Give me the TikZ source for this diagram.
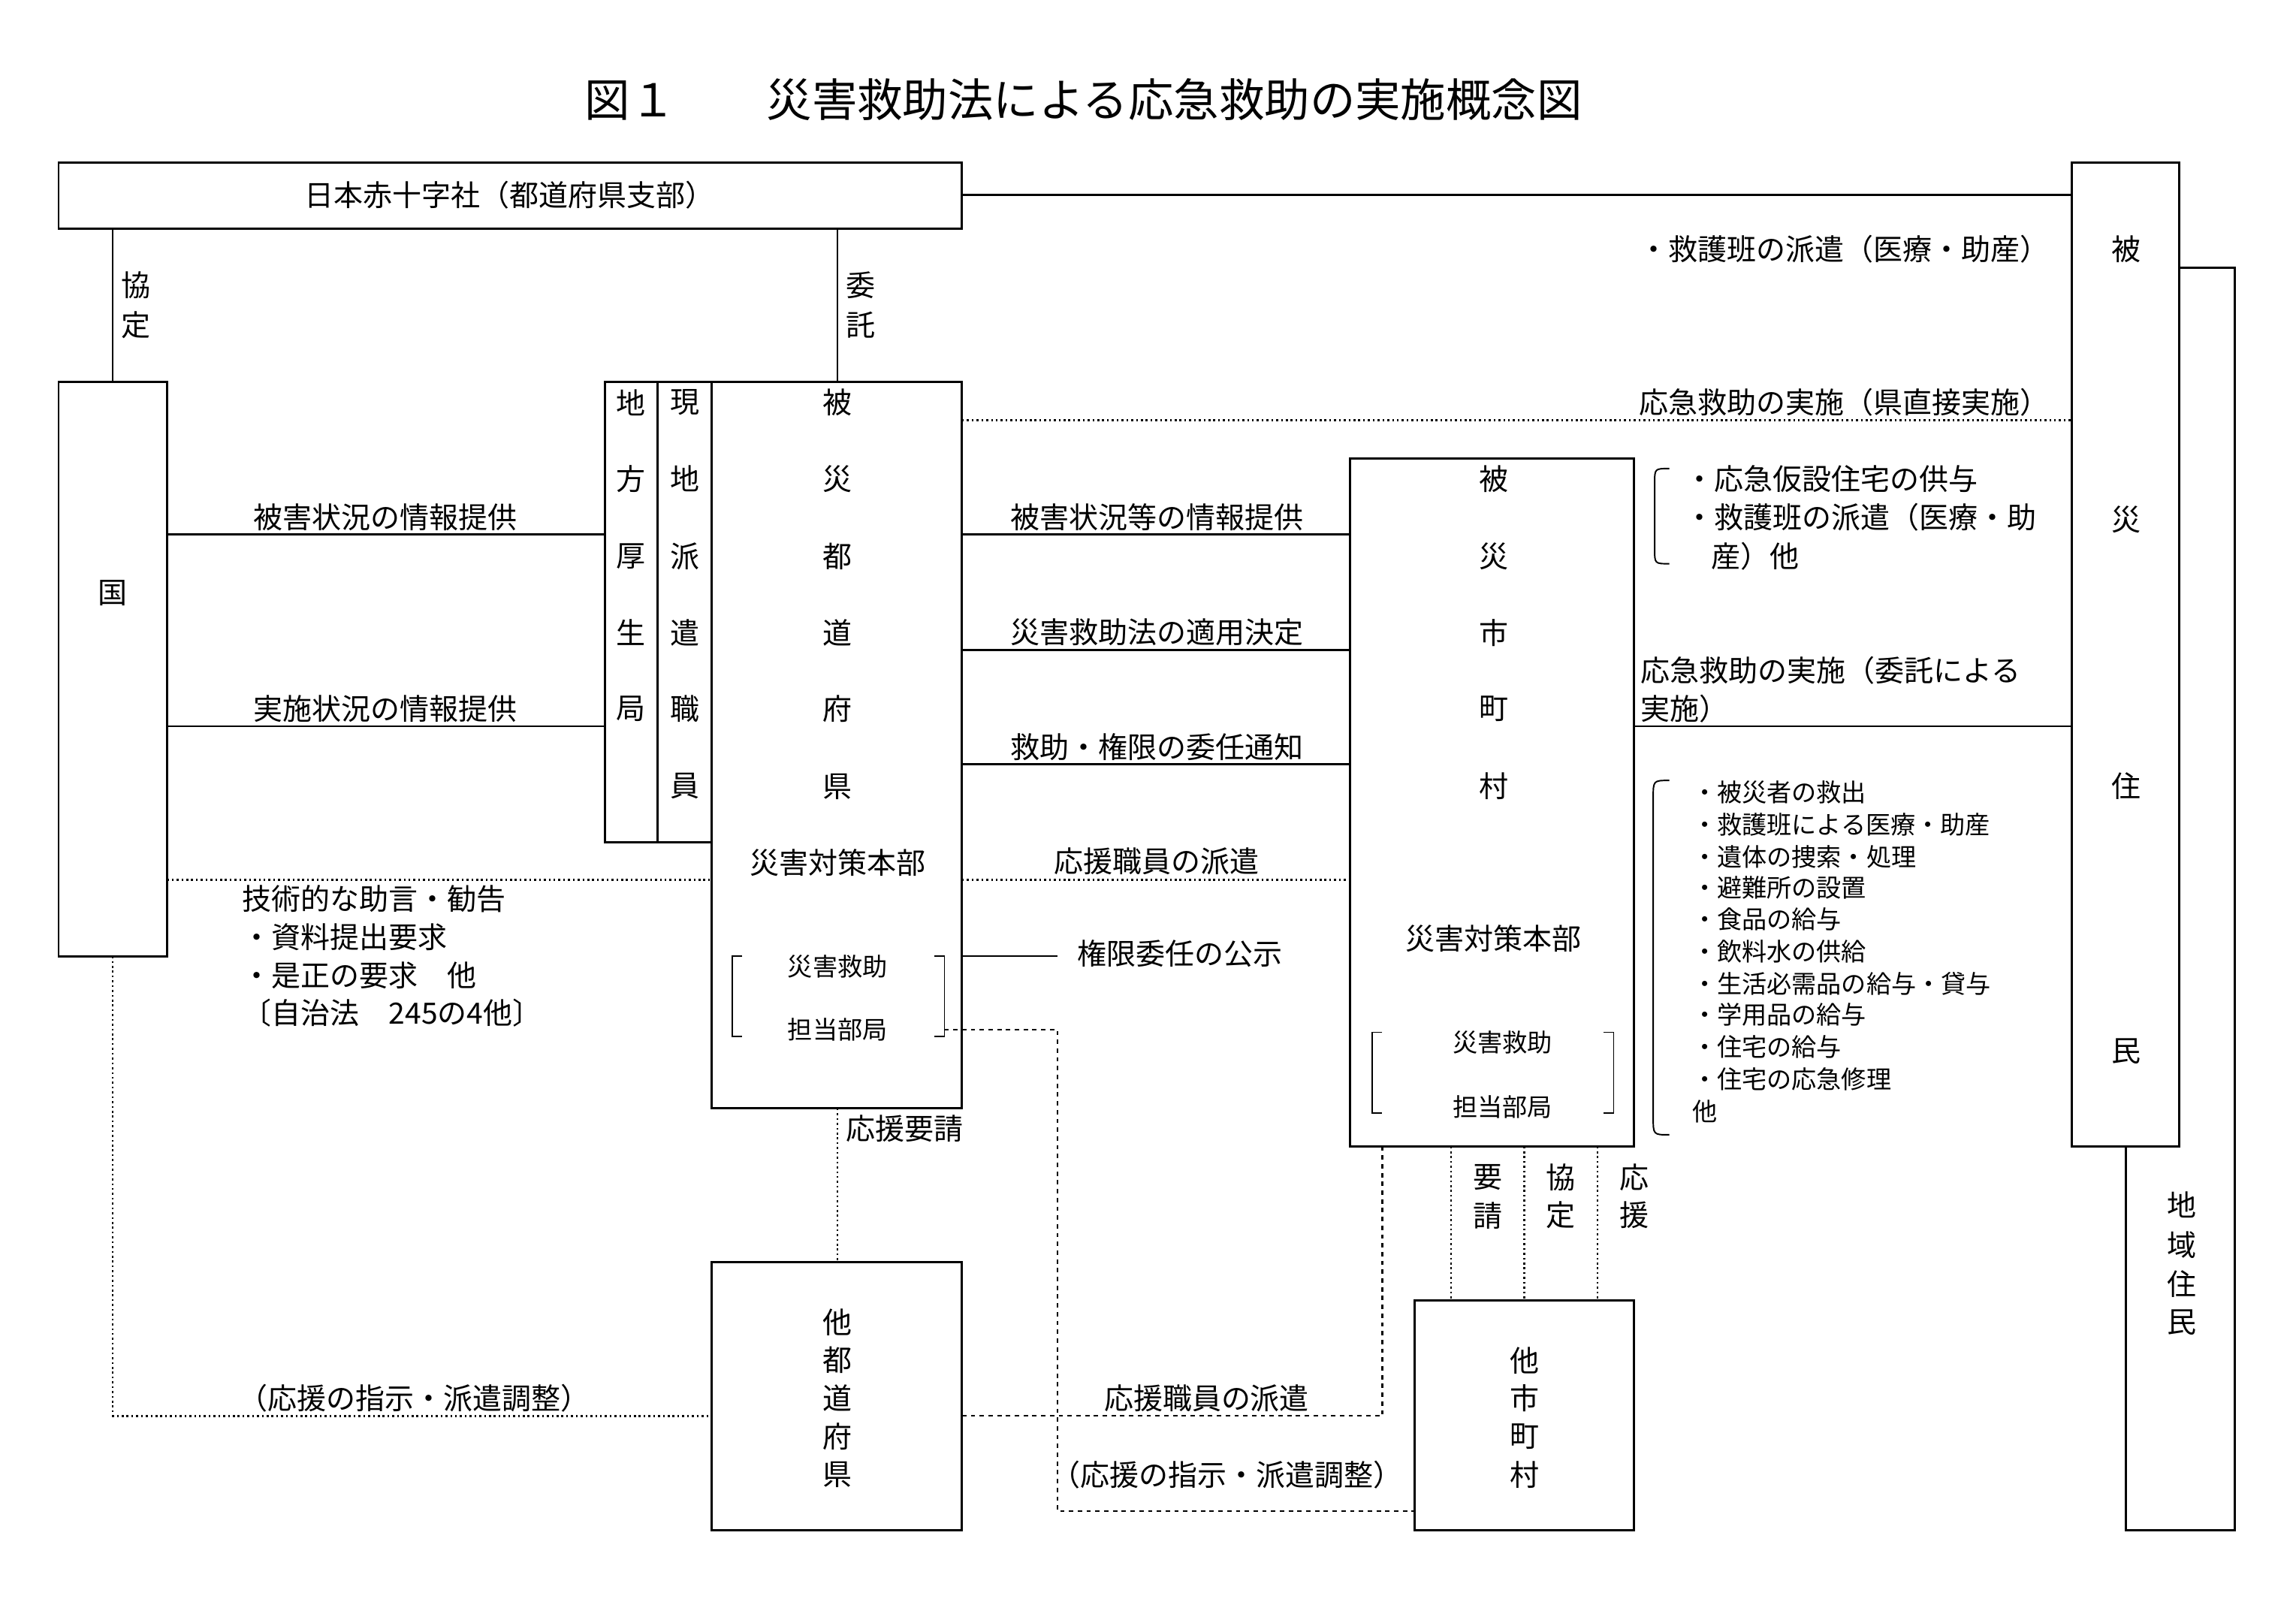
\documentclass[tikz,border=0pt]{standalone}
\usepackage{fontspec}
\setmainfont{Noto Sans CJK JP}
\begin{document}
\begin{tikzpicture}[x=1pt,y=-1pt,line width=1.3pt,
 t/.style={inner sep=0pt,font=\fontsize{20}{24}\selectfont},
 s/.style={inner sep=0pt,font=\fontsize{17}{20}\selectfont,anchor=west},
 box/.style={draw,line width=1.5pt},
 dot/.style={dotted,line width=1.3pt},
 dsh/.style={dashed,line width=1.1pt}]
\useasboundingbox (0,0) rectangle (1568,1108);
\node[t,font=\fontsize{31}{36}\selectfont] (title) at (740,68) {図１　　災害救助法による応急救助の実施概念図};
% boxes
\draw[box] (40,111) rectangle (657,156);
\node[t] (rc) at (348,133) {日本赤十字社（都道府県支部）};
\draw[box] (1415,111) rectangle (1488,783);
\foreach \c/\y in {被/170,災/355,住/537,民/718} \node[t] at (1452,\y) {\c};
\draw[box] (1488,183) -- (1526,183) -- (1526,1045) -- (1452,1045) -- (1452,783);
\foreach \c/\y in {地/823,域/850,住/877,民/903} \node[t] at (1490,\y) {\c};
\draw (657,133) -- (1415,133);
\draw (77,156) -- (77,261); \node[t] at (93,195) {協}; \node[t] at (93,222) {定};
\draw (572,156) -- (572,261); \node[t] at (588,195) {委}; \node[t] at (588,222) {託};
\draw[box] (40,261) rectangle (114,653); \node[t] (kuni) at (77,405) {国};
\draw[box] (413,261) rectangle (449,575);
\foreach \c/\y in {地/275,方/327,厚/380,生/432,局/484} \node[t] at (431,\y) {\c};
\draw[box] (449,261) rectangle (486,575);
\foreach \c/\y in {現/275,地/327,派/380,遣/432,職/484,員/537} \node[t] at (468,\y) {\c};
\draw[box] (486,261) rectangle (657,757);
\foreach \c/\y in {被/275,災/327,都/380,道/432,府/484,県/537} \node[t] at (572,\y) {\c};
\node[t] at (572,589) {災害対策本部};
\node[s,anchor=center] at (572,660) {災害救助};
\node[s,anchor=center] at (572,703) {担当部局};
\draw[line width=1pt] (507,653) -- (500,653) -- (500,708) -- (507,708);
\draw[line width=1pt] (638,653) -- (645,653) -- (645,708) -- (638,708);
\draw[box] (922,313) rectangle (1116,783);
\foreach \c/\y in {被/327,災/380,市/432,町/484,村/537} \node[t] at (1020,\y) {\c};
\node[t] at (1020,641) {災害対策本部};
\node[s,anchor=center] at (1026,712) {災害救助};
\node[s,anchor=center] at (1026,756) {担当部局};
\draw[line width=1pt] (944,705) -- (937,705) -- (937,760) -- (944,760);
\draw[line width=1pt] (1095,705) -- (1102,705) -- (1102,760) -- (1095,760);
% left lines
\draw (114,365) -- (413,365); \node[t] at (263,353) {被害状況の情報提供};
\draw (114,496) -- (413,496); \node[t] at (263,484) {実施状況の情報提供};
\draw[dot] (114,601) -- (486,601);
\foreach \s/\y in {技術的な助言・勧告/614,・資料提出要求/640,・是正の要求　他/666,〔自治法　245の4他〕/692} \node[t,anchor=west] at (165,\y) {\s};
% middle lines
\draw (657,365) -- (922,365); \node[t] at (790,353) {被害状況等の情報提供};
\draw (657,444) -- (922,444); \node[t] at (790,432) {災害救助法の適用決定};
\draw (657,522) -- (922,522); \node[t] at (790,510) {救助・権限の委任通知};
\draw[dot] (657,601) -- (922,601); \node[t] at (790,588) {応援職員の派遣};
\draw (657,653) -- (722,653); \node[t,anchor=west] at (735,651) {権限委任の公示};
\draw[dot] (657,287) -- (1415,287); \node[t,anchor=east] at (1400,275) {応急救助の実施（県直接実施）};
\node[t,anchor=east] at (1400,170) {・救護班の派遣（医療・助産）};
% right side
\draw[line width=1pt] (1140,320) .. controls (1130,320) .. (1130,330) -- (1130,375) .. controls (1130,385) .. (1140,385);
\node[t,anchor=west] at (1150,327) {・応急仮設住宅の供与};
\node[t,anchor=west] at (1150,353) {・救護班の派遣（医療・助};
\node[t,anchor=west] at (1168,380) {産）他};
\draw (1116,496) -- (1415,496);
\node[t,anchor=west] at (1120,458) {応急救助の実施（委託による};
\node[t,anchor=west] at (1120,484) {実施）};
\draw[line width=1pt] (1140,533) .. controls (1129,533) .. (1129,545) -- (1129,763) .. controls (1129,775) .. (1140,775);
\foreach \s/\y in {・被災者の救出/541,・救護班による医療・助産/563,・遺体の捜索・処理/585,・避難所の設置/606,・食品の給与/628,・飲料水の供給/650,・生活必需品の給与・貸与/672,・学用品の給与/693,・住宅の給与/715,・住宅の応急修理/737,他/759} \node[s] at (1155,\y) {\s};
% bottom
\draw[dot] (572,757) -- (572,862); \node[t,anchor=west] at (577,771) {応援要請};
\draw[box] (486,862) rectangle (657,1045);
\foreach \c/\y in {他/903,都/929,道/955,府/981,県/1007} \node[t] at (572,\y) {\c};
\draw[dot] (77,653) -- (77,967) -- (486,967); \node[t] at (283,955) {（応援の指示・派遣調整）};
\draw[dsh] (645,703) -- (722,703) -- (722,1032) -- (966,1032); \node[t] at (838,1007) {（応援の指示・派遣調整）};
\draw[dsh] (944,783) -- (944,967) -- (657,967); \node[t] at (824,955) {応援職員の派遣};
\draw[box] (966,888) rectangle (1116,1045);
\foreach \c/\y in {他/929,市/955,町/981,村/1007} \node[t] at (1041,\y) {\c};
\foreach \x/\a/\b in {991/要/請,1041/協/定,1091/応/援} {
 \draw[dot] (\x,783) -- (\x,888);
 \node[t] at (\x+25,804) {\a}; \node[t] at (\x+25,830) {\b};}
\end{tikzpicture}
\end{document}
